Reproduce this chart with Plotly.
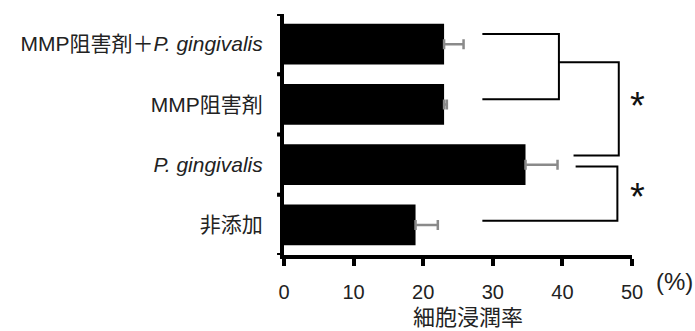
import plotly.graph_objects as go

categories = ["非添加", "<i>P. gingivalis</i>", "MMP阻害剤", "MMP阻害剤＋<i>P. gingivalis</i>"]
values = [18.9, 34.7, 23.0, 23.0]
errors = [3.2, 4.6, 0.4, 2.8]
x_ticks = [0, 10, 20, 30, 40, 50]

# significance brackets (x in %, y in category index)
bracket1_x = [28.5, 39.5, 39.5, 28.5, None, 39.5, 48.1, 48.1, 41.6]
bracket1_y = [3.167, 3.167, 2.083, 2.083, None, 2.7, 2.7, 1.15, 1.15]
bracket2_x = [41.9, 47.9, 47.9, 28.5]
bracket2_y = [0.967, 0.967, 0.067, 0.067]
stars_y = [2.08, 0.57]

FONT = "Liberation Sans, Arial, Noto Sans CJK JP"
TXT = "#222"

# plot area in pixels
L, R, T, B = 284, 632, 14, 255
W, H = 695, 331
pw, ph = R - L, B - T

def px_x(p):
    return (p - L) / pw

def px_y(p):
    return (B - p) / ph

fig = go.Figure()
fig.add_trace(go.Bar(
    y=list(range(len(categories))), x=values, orientation="h",
    marker=dict(color="black", line=dict(width=0)), width=0.68,
    error_x=dict(type="data", array=errors, symmetric=False, arrayminus=[0] * 4,
                 color="#8a8a8a", thickness=2.5, width=5),
    showlegend=False, hoverinfo="skip",
))
for bx, by in [(bracket1_x, bracket1_y), (bracket2_x, bracket2_y)]:
    fig.add_trace(go.Scatter(x=bx, y=by, mode="lines", line=dict(color="black", width=2),
                             cliponaxis=False, showlegend=False, hoverinfo="skip"))

for sy in stars_y:
    fig.add_annotation(x=px_x(637), y=(sy + 0.5) / 4, xref="paper", yref="paper",
                       xanchor="center", yanchor="middle",
                       text="*", showarrow=False, yshift=-6,
                       font=dict(family=FONT, size=38, color="#111"))

fig.add_annotation(x=px_x(674), y=px_y(281), xref="paper", yref="paper", text="(%)",
                   xanchor="center", yanchor="middle",
                   showarrow=False, font=dict(family=FONT, size=24, color=TXT))
fig.add_annotation(x=px_x(468), y=px_y(317), xref="paper", yref="paper",
                   xanchor="center", yanchor="middle",
                   text="細胞浸潤率", showarrow=False,
                   font=dict(family=FONT, size=22, color=TXT))

fig.update_layout(
    width=W, height=H,
    margin=dict(l=L, r=W - R, t=T, b=H - B),
    paper_bgcolor="white", plot_bgcolor="white",
    font=dict(family=FONT, size=18, color=TXT),
)
fig.update_xaxes(
    range=[0, 50], tickvals=x_ticks, ticktext=[str(v) for v in x_ticks],
    showgrid=False, zeroline=False, showline=True, linecolor="black", linewidth=4,
    ticks="outside", ticklen=7, tickwidth=4, tickcolor="black",
    tickfont=dict(family=FONT, size=20, color=TXT), ticklabelstandoff=9,
)
fig.update_yaxes(
    range=[-0.5, 3.5], tickvals=list(range(len(categories))), ticktext=categories,
    showgrid=False, zeroline=False, showline=True, linecolor="black", linewidth=4,
    ticks="", tickfont=dict(family=FONT, size=21, color=TXT), ticklabelstandoff=13,
)
# boundary ticks on the y axis
for b in [-0.5, 0.5, 1.5, 2.5, 3.5]:
    fig.add_shape(type="line", xref="paper", yref="y", x0=-0.02, x1=0, y0=b, y1=b,
                  line=dict(color="black", width=4))

fig.write_html("out.html")
